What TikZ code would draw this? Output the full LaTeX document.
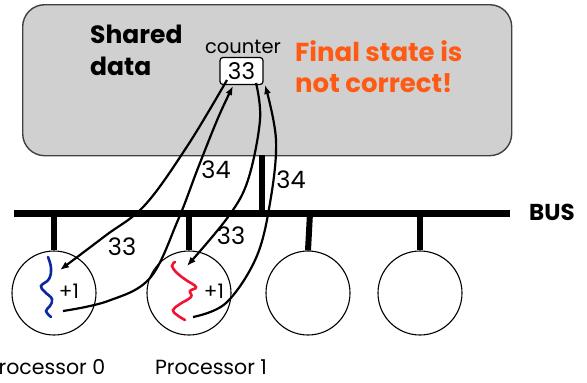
\documentclass[tikz,border=0pt]{standalone}
\usepackage{fontspec}
\setmainfont{Poppins}
\usetikzlibrary{arrows.meta}
\definecolor{boxgray}{RGB}{208,208,208}
\definecolor{warn}{RGB}{255,90,20}
\definecolor{sqblue}{RGB}{10,40,160}
\definecolor{sqred}{RGB}{240,20,50}
\tikzset{
  bar/.style={line width=6pt},
  proc/.style={circle, draw, line width=1.1pt, minimum size=84pt, inner sep=0pt},
  msg/.style={line width=2.2pt, -{Latex[length=9pt,width=7pt]}},
  num/.style={font=\fontsize{24}{24}\selectfont},
  plabel/.style={font=\fontsize{20.5}{20.5}\selectfont},
}
\begin{document}
\begin{tikzpicture}[x=1pt,y=-1pt]
\useasboundingbox (0,0) rectangle (587,383);
% shared data box
\node (shared) [draw=black!75, line width=1.4pt, fill=boxgray, rounded corners=22pt,
  minimum width=489pt, minimum height=151pt, anchor=north west] at (22,4) {};
\node (sdtext) [align=left, anchor=north west, inner sep=0pt, font=\fontsize{25}{32}\selectfont\bfseries] at (90,25) {Shared\\data};
\node (ctrlabel) [font=\fontsize{19.5}{19.5}\selectfont] at (243,47) {counter};
\node (ctr) [draw, line width=1.2pt, fill=white, rounded corners=3pt, minimum width=43pt,
  minimum height=27pt, inner sep=0pt, font=\fontsize{23}{23}\selectfont] at (241.5,71) {33};
\node (final) [align=left, anchor=north west, inner sep=0pt, text=warn, font=\fontsize{26}{31}\selectfont\bfseries] at (295,40) {Final state is\\not correct!};
% bus
\coordinate (busL) at (14,213);
\coordinate (busR) at (510,213);
\draw[line width=7pt] (busL) -- (busR);
\node (bus) [font=\fontsize{23}{23}\selectfont\bfseries, anchor=west, inner sep=0pt] at (529,212) {BUS};
\coordinate (stubtop) at (262,155);
\coordinate (stubbot) at (262,213);
\draw[bar] (stubtop) -- (stubbot);
% processors
\node (p0) [proc] at (54,293) {};
\node (p1) [proc] at (189,293) {};
\node (p2) [proc] at (308,293) {};
\node (p3) [proc] at (420,293) {};
\foreach \p/\x in {p0/54,p1/189,p2/310,p3/420}{
  \draw[bar] (\x,213) -- (\p.north);
}
\node (l0) [plabel] at (46,367) {Processor 0};
\node (l1) [plabel] at (211,367) {Processor 1};
% squiggles
\draw[sqblue, line width=2.6pt, line cap=round] plot[smooth, tension=0.7] coordinates
  {(48,257) (51,268) (49,279) (41,286) (45,292) (52,299) (50,306) (46,311) (51,317)};
\draw[sqred, line width=2.6pt, line cap=round] plot[smooth, tension=0.7] coordinates
  {(175,262) (172,266) (177,273) (186,280) (196,287) (190,291) (191,297) (180,304) (173,310) (177,315) (185,320)};
\node (inc0) [num, font=\fontsize{20}{20}\selectfont] at (69,291) {+1};
\node (inc1) [num, font=\fontsize{20}{20}\selectfont] at (214,291) {+1};
% message arrows
\coordinate (a1s) at (227,80);
\coordinate (a1e) at (60,270);
\draw[msg] plot[smooth, tension=0.6] coordinates {(a1s) (188,145) (145,205) (105,236) (a1e)};
\coordinate (a2s) at (63,311);
\coordinate (a2e) at (233,86);
\draw[msg] plot[smooth, tension=0.6] coordinates {(a2s) (108,301) (150,278) (178,220) (198,168) (218,118) (a2e)};
\coordinate (a3s) at (256,83);
\coordinate (a3e) at (187,266);
\draw[msg] plot[smooth, tension=0.6] coordinates {(a3s) (260,120) (248,180) (228,217) (a3e)};
\coordinate (a4s) at (193,317);
\coordinate (a4e) at (265,85);
\draw[msg] plot[smooth, tension=0.6] coordinates {(a4s) (226,303) (256,258) (270,203) (276,140) (a4e)};
% value labels
\node (v1) [num] at (122,247) {33};
\node (v2) [num] at (216,170) {34};
\node (v3) [num] at (231,236) {33};
\node (v4) [num] at (291,180) {34};
\end{tikzpicture}
\end{document}
